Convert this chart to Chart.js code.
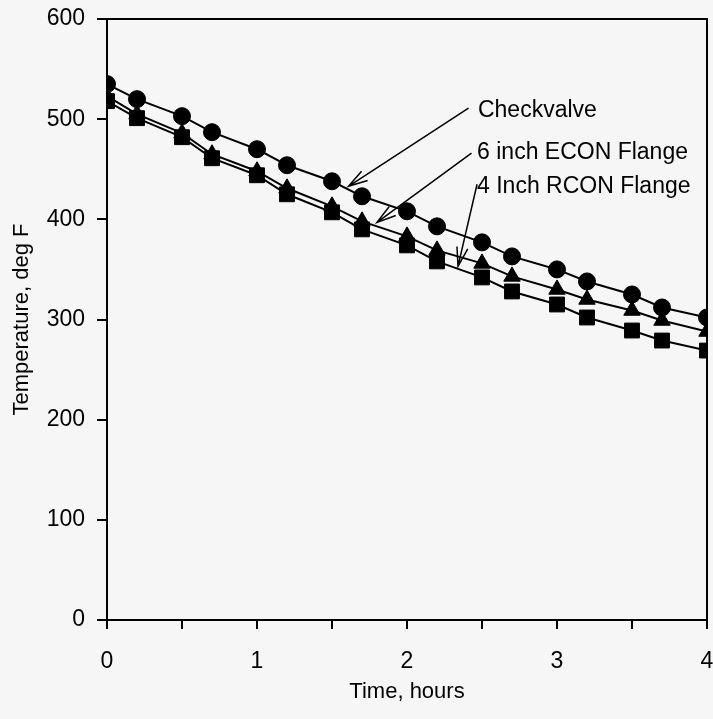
<!DOCTYPE html>
<html>
<head>
<meta charset="utf-8">
<script src="https://cdn.jsdelivr.net/npm/chart.js@4"></script>
<style>
  html, body { margin: 0; padding: 0; background: #f6f6f6; }
  #wrap { width: 713px; height: 719px; }
</style>
</head>
<body>
<div id="wrap"><canvas id="myChart" width="713" height="719"></canvas></div>
<script>
// time in hours, temperatures in deg F
var times = [0, 0.2, 0.5, 0.7, 1.0, 1.2, 1.5, 1.7, 2.0, 2.2, 2.5, 2.7, 3.0, 3.2, 3.5, 3.7, 4.0];
var checkvalve = [535, 520, 503, 487, 470, 454, 438, 423, 408, 393, 377, 363, 350, 338, 325, 312, 302];
var econ6 = [523, 505, 486, 465, 448, 431, 413, 398, 383, 369, 356, 343, 330, 320, 309, 299, 288];
var rcon4 = [518, 501, 482, 461, 444, 425, 407, 390, 374, 358, 342, 328, 315, 302, 289, 279, 269];

var xTicks = [0, 1, 2, 3, 4];
var yTicks = [0, 100, 200, 300, 400, 500, 600];

// callout labels, their text anchor and arrow ends (data units)
var noteLabels = ['Checkvalve', '6 inch ECON Flange', '4 Inch RCON Flange'];
var noteAt = [[2.473, 508], [2.467, 467], [2.467, 433]];
var arrowFrom = [[2.41, 511], [2.43, 466], [2.467, 435]];
var arrowTo = [[1.61, 433], [1.80, 397], [2.34, 353]];

function pts(ys) {
  return times.map(function(t, i) { return {x: t, y: ys[i]}; });
}

var font = 'Liberation Sans, Arial, Helvetica, sans-serif';

var frame = {
  id: 'frame',
  afterDatasetsDraw: function(chart) {
    var ctx = chart.ctx, a = chart.chartArea;
    var sx = chart.scales.x, sy = chart.scales.y;
    ctx.save();
    ctx.strokeStyle = '#000';
    ctx.lineWidth = 2;
    ctx.strokeRect(a.left, a.top, a.right - a.left, a.bottom - a.top);
    // callouts
    ctx.fillStyle = '#000';
    ctx.font = '23px ' + font;
    ctx.textBaseline = 'middle';
    ctx.lineWidth = 1.5;
    for (var i = 0; i < noteLabels.length; i++) {
      ctx.fillText(noteLabels[i], sx.getPixelForValue(noteAt[i][0]), sy.getPixelForValue(noteAt[i][1]));
      var x0 = sx.getPixelForValue(arrowFrom[i][0]), y0 = sy.getPixelForValue(arrowFrom[i][1]);
      var x1 = sx.getPixelForValue(arrowTo[i][0]), y1 = sy.getPixelForValue(arrowTo[i][1]);
      ctx.beginPath();
      ctx.moveTo(x0, y0);
      ctx.lineTo(x1, y1);
      var ang = Math.atan2(y0 - y1, x0 - x1);
      var len = 20, spread = 0.28;
      ctx.moveTo(x1 + len * Math.cos(ang + spread), y1 + len * Math.sin(ang + spread));
      ctx.lineTo(x1, y1);
      ctx.lineTo(x1 + len * Math.cos(ang - spread), y1 + len * Math.sin(ang - spread));
      ctx.stroke();
    }
    ctx.restore();
  }
};

function series(label, ys, style, r) {
  return {
    label: label,
    data: pts(ys),
    borderColor: '#000',
    backgroundColor: '#000',
    borderWidth: 2,
    pointStyle: style,
    pointRadius: r,
    pointHoverRadius: r,
    pointBorderWidth: 1,
    showLine: true,
    fill: false,
    tension: 0
  };
}

var ctx = document.getElementById('myChart').getContext('2d');
var chart = new Chart(ctx, {
  type: 'scatter',
  data: {
    datasets: [
      series('4 Inch RCON Flange', rcon4, 'rect', 10.5),
      series('6 inch ECON Flange', econ6, 'triangle', 9.5),
      series('Checkvalve', checkvalve, 'circle', 8.5)
    ]
  },
  options: {
    responsive: false,
    animation: false,
    layout: { autoPadding: false, padding: { top: 19, right: 6, left: 0, bottom: 0 } },
    plugins: { legend: { display: false }, tooltip: { enabled: false } },
    scales: {
      x: {
        type: 'linear',
        min: 0, max: 4,
        afterFit: function(s) { s.height = 99; s.paddingLeft = 0; s.paddingRight = 0; },
        afterBuildTicks: function(s) {
          var t = [];
          for (var v = 0; v <= 4; v += 0.5) t.push({value: v});
          s.ticks = t;
        },
        ticks: {
          padding: 19,
          color: '#000',
          font: { family: font, size: 23 },
          maxRotation: 0,
          callback: function(v) { return xTicks.indexOf(v) >= 0 ? String(v) : ''; }
        },
        grid: { drawOnChartArea: false, color: '#000', lineWidth: 2, tickLength: 9 },
        border: { display: true, color: '#000', width: 2 },
        title: {
          display: true, text: 'Time, hours', color: '#000',
          font: { family: font, size: 22 }, padding: { top: 0, bottom: 14 }
        }
      },
      y: {
        type: 'linear',
        min: 0, max: 600,
        afterFit: function(s) { s.width = 107; s.paddingTop = 0; s.paddingBottom = 0; },
        afterBuildTicks: function(s) {
          s.ticks = yTicks.map(function(v) { return {value: v}; });
        },
        ticks: {
          padding: 12,
          color: '#000',
          font: { family: font, size: 23 }
        },
        grid: { drawOnChartArea: false, color: '#000', lineWidth: 2, tickLength: 10 },
        border: { display: true, color: '#000', width: 2 },
        title: {
          display: true, text: 'Temperature, deg F', color: '#000',
          font: { family: font, size: 22 }, padding: { top: 9, bottom: 0 }
        }
      }
    }
  },
  plugins: [frame]
});
</script>
</body>
</html>
